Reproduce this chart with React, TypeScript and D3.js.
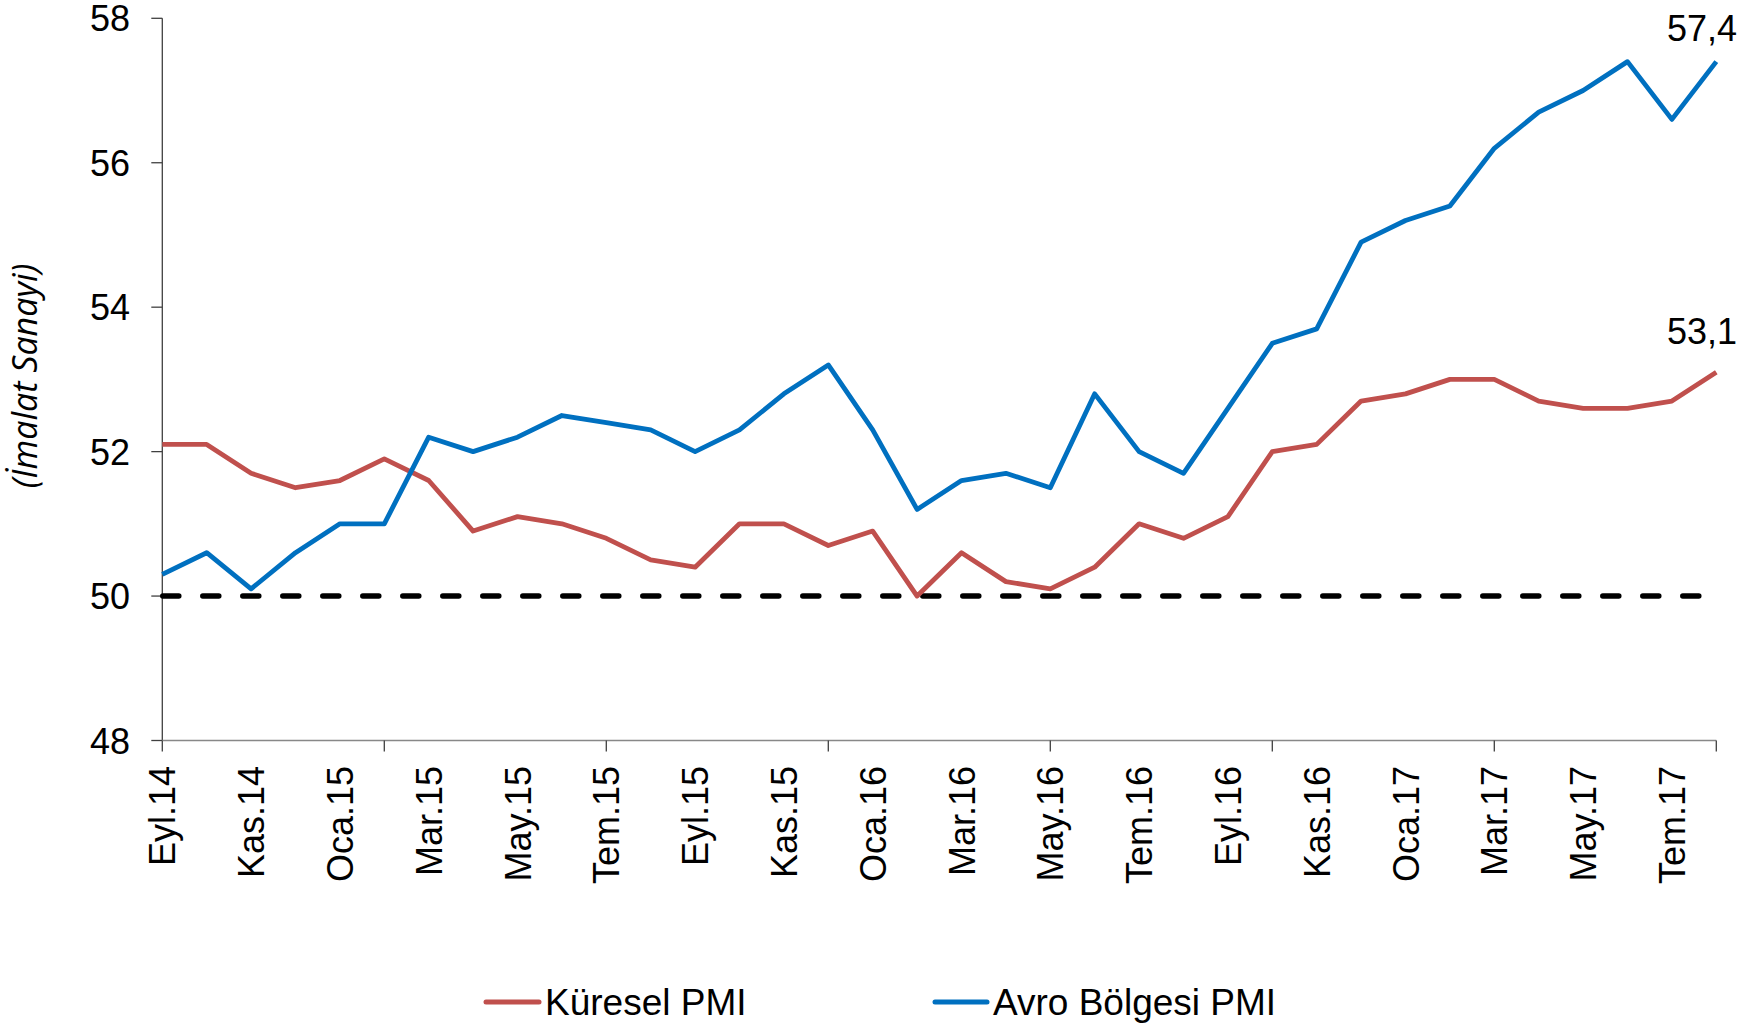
import React from "react";
import * as d3 from "d3";

const months: string[] = [
  "Eyl.14","Eki.14","Kas.14","Ara.14","Oca.15","Şub.15","Mar.15","Nis.15","May.15","Haz.15","Tem.15","Ağu.15",
  "Eyl.15","Eki.15","Kas.15","Ara.15","Oca.16","Şub.16","Mar.16","Nis.16","May.16","Haz.16","Tem.16","Ağu.16",
  "Eyl.16","Eki.16","Kas.16","Ara.16","Oca.17","Şub.17","Mar.17","Nis.17","May.17","Haz.17","Tem.17","Ağu.17",
];

const kureselPMI: number[] = [
  52.1, 52.1, 51.7, 51.5, 51.6, 51.9, 51.6, 50.9, 51.1, 51.0, 50.8, 50.5,
  50.4, 51.0, 51.0, 50.7, 50.9, 50.0, 50.6, 50.2, 50.1, 50.4, 51.0, 50.8,
  51.1, 52.0, 52.1, 52.7, 52.8, 53.0, 53.0, 52.7, 52.6, 52.6, 52.7, 53.1,
];

const avroPMI: number[] = [
  50.3, 50.6, 50.1, 50.6, 51.0, 51.0, 52.2, 52.0, 52.2, 52.5, 52.4, 52.3,
  52.0, 52.3, 52.8, 53.2, 52.3, 51.2, 51.6, 51.7, 51.5, 52.8, 52.0, 51.7,
  52.6, 53.5, 53.7, 54.9, 55.2, 55.4, 56.2, 56.7, 57.0, 57.4, 56.6, 57.4,
];

const yTicks: number[] = [48, 50, 52, 54, 56, 58];
const threshold = 50;
const seriesNames: string[] = ["Küresel PMI", "Avro Bölgesi PMI"];
const yTitle = "(İmalat Sanayi)";

const RED = "#C0504D";
const BLUE = "#0070C0";
const FONT = "'Liberation Sans', Arial, sans-serif";

export default function App() {
  const x0 = 162.3;
  const x1 = 1716.3;
  const yTop = 18.3;
  const yBot = 740.5;

  const x = d3.scaleLinear().domain([0, months.length - 1]).range([x0, x1]);
  const y = d3.scaleLinear().domain([48, 58]).range([yBot, yTop]);

  const line = d3
    .line<number>()
    .x((_, i) => x(i))
    .y((d) => y(d));

  const labelIdx = months.map((_, i) => i).filter((i) => i % 2 === 0);
  const tickIdx = months.map((_, i) => i).filter((i) => i % 5 === 0);

  const last = months.length - 1;

  return (
    <svg
      width={1758}
      height={1024}
      style={{ position: "absolute", left: 0, top: 0, background: "#fff" }}
      fontFamily={FONT}
    >
      <rect width={1758} height={1024} fill="#fff" />

      {/* Y axis */}
      <line x1={x0} x2={x0} y1={yTop} y2={yBot} stroke="#404040" strokeWidth={1.3} />
      {yTicks.map((t) => (
        <g key={t}>
          <line x1={x0 - 11} x2={x0} y1={y(t)} y2={y(t)} stroke="#404040" strokeWidth={1.3} />
          <text x={130} y={y(t) + 13} fontSize={36} textAnchor="end" fill="#000">
            {t}
          </text>
        </g>
      ))}

      {/* X axis */}
      <line x1={x0} x2={x1} y1={yBot} y2={yBot} stroke="#888" strokeWidth={1.6} />
      {tickIdx.map((i) => (
        <line key={i} x1={x(i)} x2={x(i)} y1={yBot} y2={yBot + 11} stroke="#404040" strokeWidth={1.3} />
      ))}
      {labelIdx.map((i) => (
        <text
          key={i}
          transform={`translate(${x(i) + 13},766) rotate(-90)`}
          fontSize={36}
          textAnchor="end"
          fill="#000"
        >
          {months[i]}
        </text>
      ))}

      {/* threshold dashed line */}
      <line
        x1={x0}
        x2={x1}
        y1={y(threshold)}
        y2={y(threshold)}
        stroke="#000"
        strokeWidth={5.5}
        strokeDasharray="16 24"
        strokeDashoffset={-0.5}
        strokeLinecap="round"
      />

      {/* series */}
      <path d={line(kureselPMI) || ""} fill="none" stroke={RED} strokeWidth={4.8} strokeLinejoin="round" />
      <path d={line(avroPMI) || ""} fill="none" stroke={BLUE} strokeWidth={4.8} strokeLinejoin="round" />

      {/* end labels */}
      <text x={1737} y={y(avroPMI[last]) - 21} fontSize={36} textAnchor="end" fill="#000">
        {avroPMI[last].toFixed(1).replace(".", ",")}
      </text>
      <text x={1737} y={y(kureselPMI[last]) - 28} fontSize={36} textAnchor="end" fill="#000">
        {kureselPMI[last].toFixed(1).replace(".", ",")}
      </text>

      {/* y title */}
      <text
        transform={`translate(24,376) rotate(-90)`}
        fontSize={34}
        fontStyle="italic"
        fontFamily="'Open Sans', sans-serif"
        textAnchor="middle"
        dominantBaseline="central"
        fill="#000"
      >
        {yTitle}
      </text>

      {/* legend */}
      <line x1={486} x2={539} y1={1002} y2={1002} stroke={RED} strokeWidth={5} strokeLinecap="round" />
      <text x={545} y={1015} fontSize={37} fill="#000">
        {seriesNames[0]}
      </text>
      <line x1={935} x2={987} y1={1002} y2={1002} stroke={BLUE} strokeWidth={5} strokeLinecap="round" />
      <text x={993} y={1015} fontSize={37} fill="#000">
        {seriesNames[1]}
      </text>
    </svg>
  );
}
